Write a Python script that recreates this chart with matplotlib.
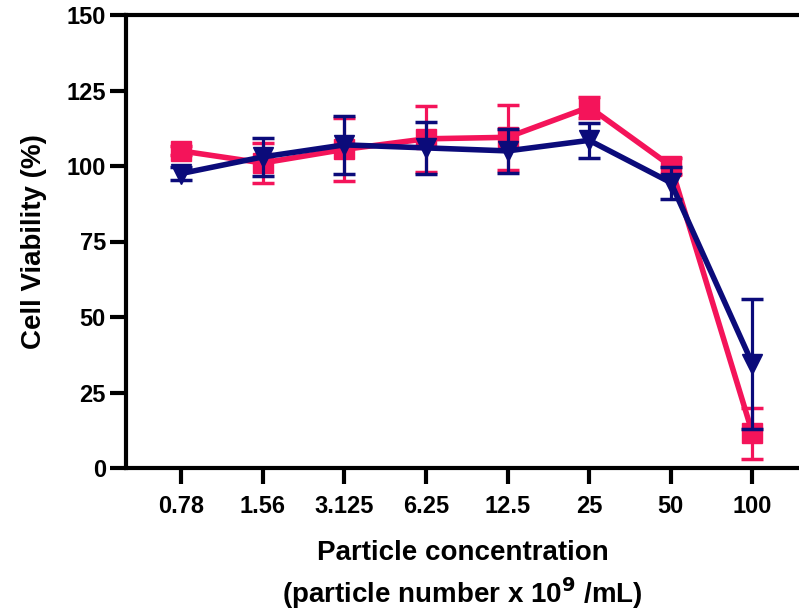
import matplotlib
matplotlib.use("Agg")
import matplotlib.pyplot as plt
import numpy as np

plt.rcParams['font.family'] = ['Liberation Sans', 'DejaVu Sans']

categories = ["0.78", "1.56", "3.125", "6.25", "12.5", "25", "50", "100"]
pink_mean = [105.0, 101.0, 105.5, 109.0, 109.5, 119.5, 100.0, 11.5]
pink_err = [1.5, 6.5, 10.5, 11.0, 10.7, 3.5, 2.5, 8.5]
blue_mean = [97.5, 103.0, 107.0, 106.0, 105.0, 108.5, 94.5, 34.5]
blue_err = [2.3, 6.3, 9.5, 8.5, 7.4, 5.7, 5.3, 21.5]
yticks = [0, 25, 50, 75, 100, 125, 150]

pink = "#F4145A"
navy = "#0B0B7A"

fig = plt.figure(figsize=(7.99, 6.12), dpi=100)
ax = fig.add_axes([126/799, (612-468)/612, 1 - 126/799, (468-15)/612])

x = np.arange(len(categories))
ax.errorbar(x, pink_mean, yerr=pink_err, color=pink, marker='s', markersize=14,
            linewidth=4, elinewidth=2.3, capsize=8, capthick=2.5, zorder=3)
ax.errorbar(x, blue_mean, yerr=blue_err, color=navy, marker='v', markersize=14,
            linewidth=4, elinewidth=2.3, capsize=8, capthick=2.5, zorder=4)

ax.set_xlim(-0.674, 7.57)
ax.set_ylim(0, 150)
ax.set_xticks(x)
ax.set_xticklabels(categories)
ax.set_yticks(yticks)
ax.set_yticklabels([str(v) for v in yticks])

for s in ['left', 'top', 'bottom']:
    ax.spines[s].set_linewidth(3.0)
ax.spines['right'].set_visible(False)
ax.tick_params(axis='both', length=11.5, width=3.0, labelsize=17)
ax.tick_params(axis='y', pad=3)
ax.tick_params(axis='x', pad=8)
for lab in ax.get_xticklabels() + ax.get_yticklabels():
    lab.set_fontweight('bold')

ax.set_ylabel("Cell Viability (%)", fontsize=20, fontweight='bold', labelpad=14)
ax.set_xlabel("Particle concentration\n(particle number x 10$^{\\mathbf{9}}$ /mL)",
              fontsize=20, fontweight='bold', labelpad=16, linespacing=1.3)

fig.savefig("out.png", dpi=100)
